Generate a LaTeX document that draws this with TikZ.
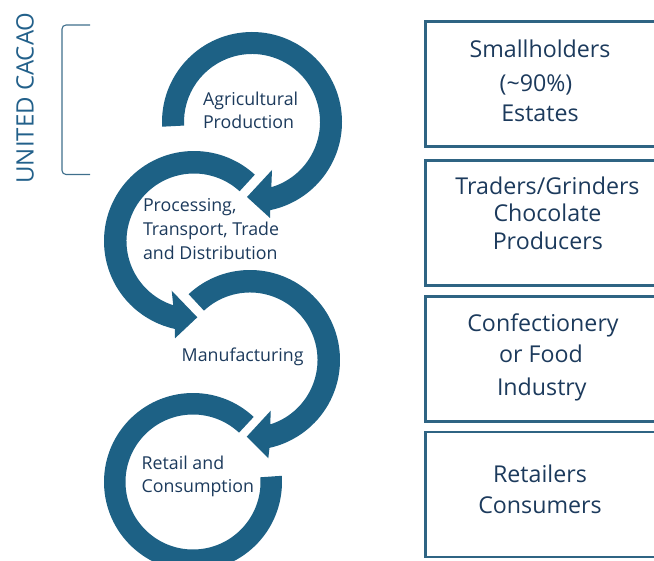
\documentclass[tikz,border=0pt]{standalone}
\usepackage{fontspec}
\setmainfont{Open Sans}
\usetikzlibrary{calc}
\definecolor{ringc}{HTML}{1D6185}
\definecolor{txtc}{HTML}{1C3A5C}
\definecolor{boxc}{HTML}{2F6483}
\definecolor{brc}{HTML}{3F6F8C}
\definecolor{titc}{HTML}{22608A}
\tikzset{
  inlbl/.style={font=\fontsize{17.8}{22}\selectfont, text=txtc, anchor=base west, inner sep=0pt, outer sep=0pt},
  boxlbl/.style={font=\fontsize{23.2}{28}\selectfont, text=txtc, anchor=base, inner sep=0pt, outer sep=0pt},
  panel/.style={draw=boxc, line width=2.6pt, minimum width=240pt, minimum height=125pt, anchor=north west, inner sep=0pt, outer sep=0pt},
  band/.style={fill=ringc},
  bracketline/.style={draw=brc, line width=1.1pt, rounded corners=4pt},
}
\begin{document}
\begin{tikzpicture}[x=1pt,y=-1pt]
\useasboundingbox (0,0) rectangle (654,561);
\clip (0,0) rectangle (654,561);

% circular arrows
\coordinate (c1) at (252,122);
\fill[band] ($(c1)+(177:90)$) arc[start angle=177, end angle=438.3, radius=90]
  -- (270,218) -- (247,197) -- (272,170)
  -- ($(c1)+(433.5:68)$) arc[start angle=433.5, end angle=177, radius=68] -- cycle;

\coordinate (c2) at (194,241);
\fill[band] ($(c2)+(312.5:90)$) arc[start angle=312.5, end angle=102.2, radius=90]
  -- (175,338.3) -- (197.3,317.3) -- (171.7,290.7)
  -- ($(c2)+(107.9:67.5)$) arc[start angle=107.9, end angle=312.5, radius=67.5] -- cycle;

\coordinate (c3) at (250,360);
\fill[band] ($(c3)+(227:90)$) arc[start angle=227, end angle=437.5, radius=90]
  -- (268.3,458.3) -- (246.7,436.7) -- (270.7,410.7)
  -- ($(c3)+(432.5:67.5)$) arc[start angle=432.5, end angle=227, radius=67.5] -- cycle;

\coordinate (c4) at (193,482);
\fill[band] ($(c4)+(313:89)$) arc[start angle=313, end angle=-4, radius=89]
  -- ($(c4)+(-4:67.5)$) arc[start angle=-4, end angle=313, radius=67.5] -- cycle;

% labels in circles
\node[inlbl] (agr1) at (203,105.3) {Agricultural};
\node[inlbl] (agr2) at (203,128.3) {Production};
\node[inlbl] (pro1) at (143,211.7) {Processing,};
\node[inlbl] (pro2) at (143,236) {Transport, Trade};
\node[inlbl] (pro3) at (143,260) {and Distribution};
\node[inlbl] (man1) at (181.7,361.7) {Manufacturing};
\node[inlbl] (ret1) at (141.7,470) {Retail and};
\node[inlbl] (ret2) at (141.7,493) {Consumption};

% bracket and title
\coordinate (bt) at (90,25);
\coordinate (bb) at (90,174.5);
\draw[bracketline] (bt) -- (62,25) -- (62,174.5) -- (bb);
\node[rotate=90, font=\fontsize{24}{28}\selectfont, text=titc, inner sep=0pt] (title) at (25,98) {UNITED CACAO};

% right panels
\node[panel] (p1) at (425.3,21.3) {};
\node[panel] (p2) at (425.3,160.7) {};
\node[panel] (p3) at (425.3,296.3) {};
\node[panel] (p4) at (425.3,432) {};

\node[boxlbl] (t11) at (540,58) {Smallholders};
\node[boxlbl] (t12) at (536,92) {(\textasciitilde 90\%)};
\node[boxlbl] (t13) at (540,122) {Estates};
\node[boxlbl] (t21) at (547.5,195) {Traders/Grinders};
\node[boxlbl] (t22) at (547.5,221.7) {Chocolate};
\node[boxlbl] (t23) at (547.8,250) {Producers};
\node[boxlbl] (t31) at (543,331.7) {Confectionery};
\node[boxlbl] (t32) at (541,362.3) {or Food};
\node[boxlbl] (t33) at (541.8,396) {Industry};
\node[boxlbl] (t41) at (540,482.3) {Retailers};
\node[boxlbl] (t42) at (540,514) {Consumers};
\end{tikzpicture}
\end{document}
